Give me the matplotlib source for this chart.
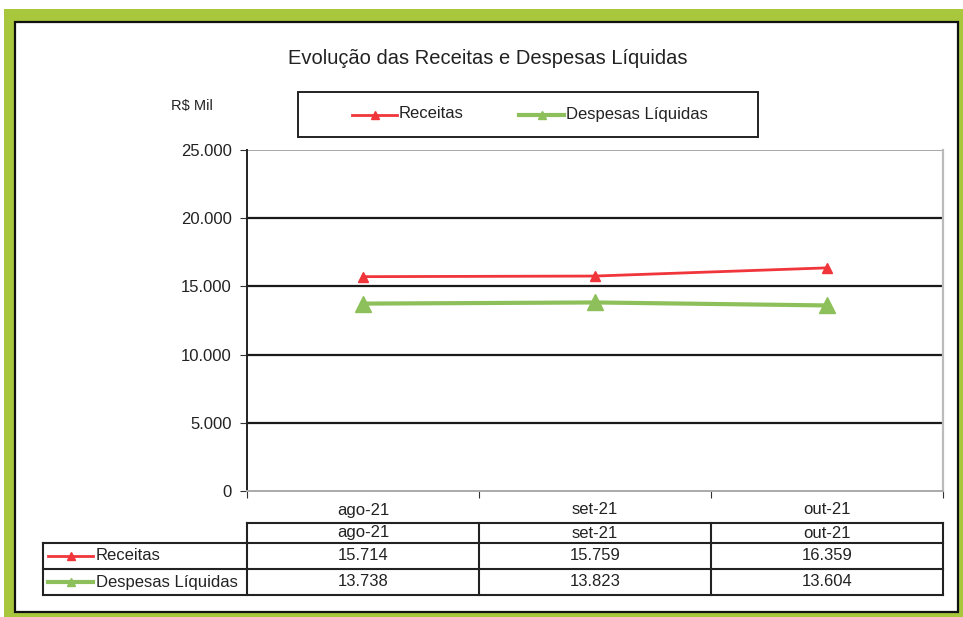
import numpy as np
import matplotlib
matplotlib.use("Agg")
import matplotlib.pyplot as plt
from matplotlib.patches import Rectangle
from matplotlib.lines import Line2D

plt.rcParams['font.family'] = ['Liberation Sans', 'DejaVu Sans']

# data
meses = ["ago-21", "set-21", "out-21"]
receitas = [15714, 15759, 16359]
despesas = [13738, 13823, 13604]
series_nomes = ["Receitas", "Despesas Líquidas"]
y_ticks = [0, 5000, 10000, 15000, 20000, 25000]

RED = "#f0353b"
GREEN = "#8dc05a"
TXT = "#222222"
W, H = 963, 617


def fx(x):
    return x / W


def fy(y):
    return 1 - y / H


def fmt(v):
    return f"{v:,.0f}".replace(",", ".")


def marca(x0, x1, y, cor, lw):
    # little line-with-triangle sample, like the legend keys
    ln = Line2D([fx(x0), fx((x0 + x1) / 2), fx(x1)], [fy(y)] * 3, color=cor, lw=lw,
                marker="^", ms=6, markevery=[1], transform=fig.transFigure)
    fig.lines.append(ln)


fig = plt.figure(figsize=(W / 100, H / 100), dpi=100)

# green frame and white box
fig.patches.append(Rectangle((fx(4), fy(617)), fx(959), 608 / H, transform=fig.transFigure,
                             facecolor="#a8c73c", edgecolor="none", zorder=-3))
fig.patches.append(Rectangle((fx(15), fy(612)), fx(943), 590 / H, transform=fig.transFigure,
                             facecolor="white", edgecolor="#111111", linewidth=1.6, zorder=-2))

# main axes
L, R, T, B = 247, 943, 150, 491
ax = fig.add_axes([fx(L), fy(B), fx(R - L), (B - T) / H])
x = np.arange(len(meses))
ax.plot(x, receitas, color=RED, lw=2, marker="^", ms=7, zorder=3)
ax.plot(x, despesas, color=GREEN, lw=3, marker="^", ms=11, zorder=3)
ax.set_xlim(-0.5, len(meses) - 0.5)
ax.set_ylim(0, 25000)
ax.set_yticks(y_ticks)
ax.set_yticklabels([fmt(v) for v in y_ticks], fontsize=12, color=TXT)
ax.set_xticks(np.arange(len(meses) + 1) - 0.5)
ax.set_xticklabels([])
ax.tick_params(axis="x", direction="out", length=5, color="#333333")
ax.tick_params(axis="y", direction="out", length=5, color="#333333", pad=6)
for v in y_ticks[1:-1]:
    ax.axhline(v, color="#1a1a1a", lw=1.6, zorder=1)
ax.axhline(y_ticks[-1], color="#999999", lw=1.2, zorder=1)
ax.spines["left"].set_color(TXT)
ax.spines["left"].set_linewidth(1.4)
ax.spines["bottom"].set_color("#aaaaaa")
ax.spines["bottom"].set_linewidth(1.4)
ax.spines["right"].set_color("#bbbbbb")
ax.spines["right"].set_linewidth(1.6)
ax.spines["top"].set_visible(False)

# category labels under the axis
for i, m in enumerate(meses):
    fig.text(fx(L + (i + 0.5) * (R - L) / len(meses)), fy(510), m,
             ha="center", va="center", fontsize=12, color=TXT)

fig.text(fx(488), fy(58), "Evolução das Receitas e Despesas Líquidas",
         ha="center", va="center", fontsize=14.5, color=TXT)
fig.text(fx(192), fy(106), "R$ Mil", ha="center", va="center", fontsize=10.5, color=TXT)

# legend, placed by hand
fig.patches.append(Rectangle((fx(298), fy(137)), fx(460), 45 / H, transform=fig.transFigure,
                             facecolor="white", edgecolor=TXT, linewidth=1.4))
marca(352, 397, 115, RED, 2)
fig.text(fx(399), fy(114), series_nomes[0], ha="left", va="center", fontsize=12, color=TXT)
marca(519, 564, 115, GREEN, 3)
fig.text(fx(566), fy(114), series_nomes[1], ha="left", va="center", fontsize=12, color=TXT)

# data table
cols = [L + i * (R - L) / len(meses) for i in range(len(meses) + 1)]
rows = [523, 543, 569, 595]
tl = []
tl.append(Line2D([fx(L), fx(R)], [fy(rows[0])] * 2))
for y in rows[1:]:
    tl.append(Line2D([fx(43), fx(R)], [fy(y)] * 2))
for c in cols:
    tl.append(Line2D([fx(c)] * 2, [fy(rows[0]), fy(rows[-1])]))
tl.append(Line2D([fx(43)] * 2, [fy(rows[1]), fy(rows[-1])]))
for ln in tl:
    ln.set_transform(fig.transFigure)
    ln.set_color(TXT)
    ln.set_linewidth(1.5)
    fig.lines.append(ln)

for i, m in enumerate(meses):
    cx = fx((cols[i] + cols[i + 1]) / 2)
    fig.text(cx, fy((rows[0] + rows[1]) / 2), m, ha="center", va="center", fontsize=12, color=TXT)
    fig.text(cx, fy((rows[1] + rows[2]) / 2), fmt(receitas[i]), ha="center", va="center", fontsize=12, color=TXT)
    fig.text(cx, fy((rows[2] + rows[3]) / 2), fmt(despesas[i]), ha="center", va="center", fontsize=12, color=TXT)

for k, (nome, cor, lw) in enumerate(zip(series_nomes, [RED, GREEN], [2, 3])):
    yc = (rows[k + 1] + rows[k + 2]) / 2
    marca(48, 93, yc, cor, lw)
    fig.text(fx(96), fy(yc), nome, ha="left", va="center", fontsize=12, color=TXT)

fig.savefig("out.png", dpi=100)
